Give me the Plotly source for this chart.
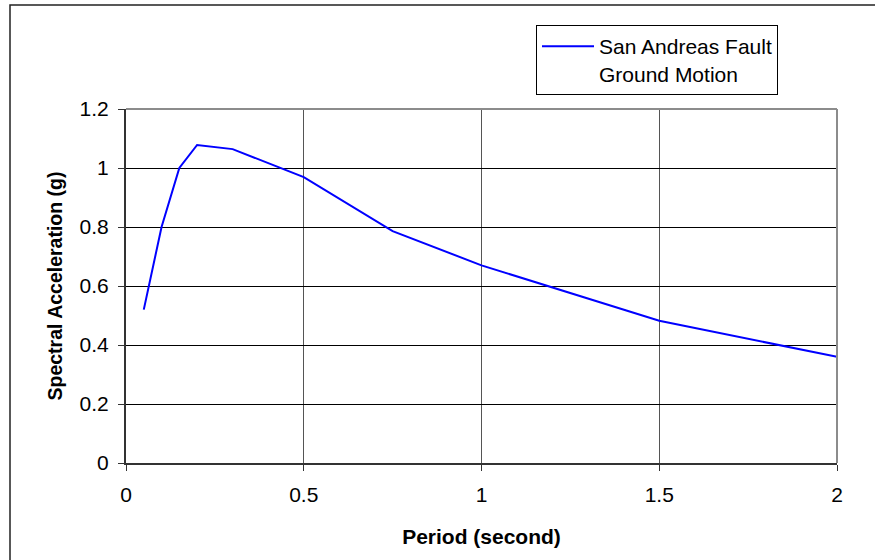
import plotly.graph_objects as go

# Response spectrum: period (s) vs spectral acceleration (g)
period = [0.05, 0.10, 0.15, 0.20, 0.30, 0.50, 0.75, 1.00, 1.50, 2.00]
spectral_acc = [0.52, 0.80, 1.00, 1.078, 1.064, 0.969, 0.786, 0.670, 0.482, 0.360]

x_ticks = [0, 0.5, 1, 1.5, 2]
y_ticks = [0, 0.2, 0.4, 0.6, 0.8, 1.0, 1.2]

W, H = 875, 560
L, R, T, B = 126, 38, 109, 97
pw, ph = W - L - R, H - T - B


def px_to_paper(px, py):
    return (px - L) / pw, (H - B - py) / ph


FONT = "Liberation Sans, Arial, sans-serif"

fig = go.Figure()
fig.add_trace(go.Scatter(
    x=period, y=spectral_acc, mode="lines",
    name="San Andreas Fault<br>Ground Motion",
    line=dict(color="#0000FF", width=2),
))

# outer chart-area frame
x0, y0 = px_to_paper(10, 5)
x1, y1 = px_to_paper(885, 570)
fig.add_shape(type="rect", xref="paper", yref="paper", x0=x0, y0=y1, x1=x1, y1=y0,
              line=dict(color="#222222", width=1.5), fillcolor="rgba(0,0,0,0)")
# plot-area border (top and right edges in gray)
fig.add_shape(type="line", xref="paper", yref="paper", x0=0, y0=1, x1=1, y1=1,
              line=dict(color="#8c8c8c", width=2), layer="above")
fig.add_shape(type="line", xref="paper", yref="paper", x0=1, y0=0, x1=1, y1=1,
              line=dict(color="#8c8c8c", width=2), layer="above")

lx, ly = px_to_paper(536, 25)

fig.update_layout(
    width=W, height=H,
    margin=dict(l=L, r=R, t=T, b=B),
    paper_bgcolor="white", plot_bgcolor="white",
    font=dict(family=FONT, size=21, color="black"),
    showlegend=True,
    legend=dict(
        x=lx, y=ly, xanchor="left", yanchor="top",
        bgcolor="white", bordercolor="black", borderwidth=1,
        font=dict(family=FONT, size=21, color="black"),
        valign="top", itemwidth=52,
    ),
    xaxis=dict(
        range=[0, 2], tickvals=x_ticks, ticktext=[f"{v:g}" for v in x_ticks],
        showgrid=True, gridcolor="#555555", gridwidth=1,
        showline=True, linecolor="#333333", linewidth=2,
        ticks="outside", ticklen=6, tickcolor="#333333",
        zeroline=False, ticklabelstandoff=6,
        title=dict(text="<b>Period (second)</b>", font=dict(size=21), standoff=24),
    ),
    yaxis=dict(
        range=[0, 1.2], tickvals=y_ticks, ticktext=[f"{v:g}" for v in y_ticks],
        showgrid=True, gridcolor="black", gridwidth=1,
        showline=True, linecolor="#333333", linewidth=2,
        ticks="outside", ticklen=6, tickcolor="#333333",
        zeroline=False, ticklabelstandoff=5,
        title=dict(text="<b>Spectral Acceleration (g)</b>", font=dict(size=19.5), standoff=12),
    ),
)

fig.write_html("out.html")
